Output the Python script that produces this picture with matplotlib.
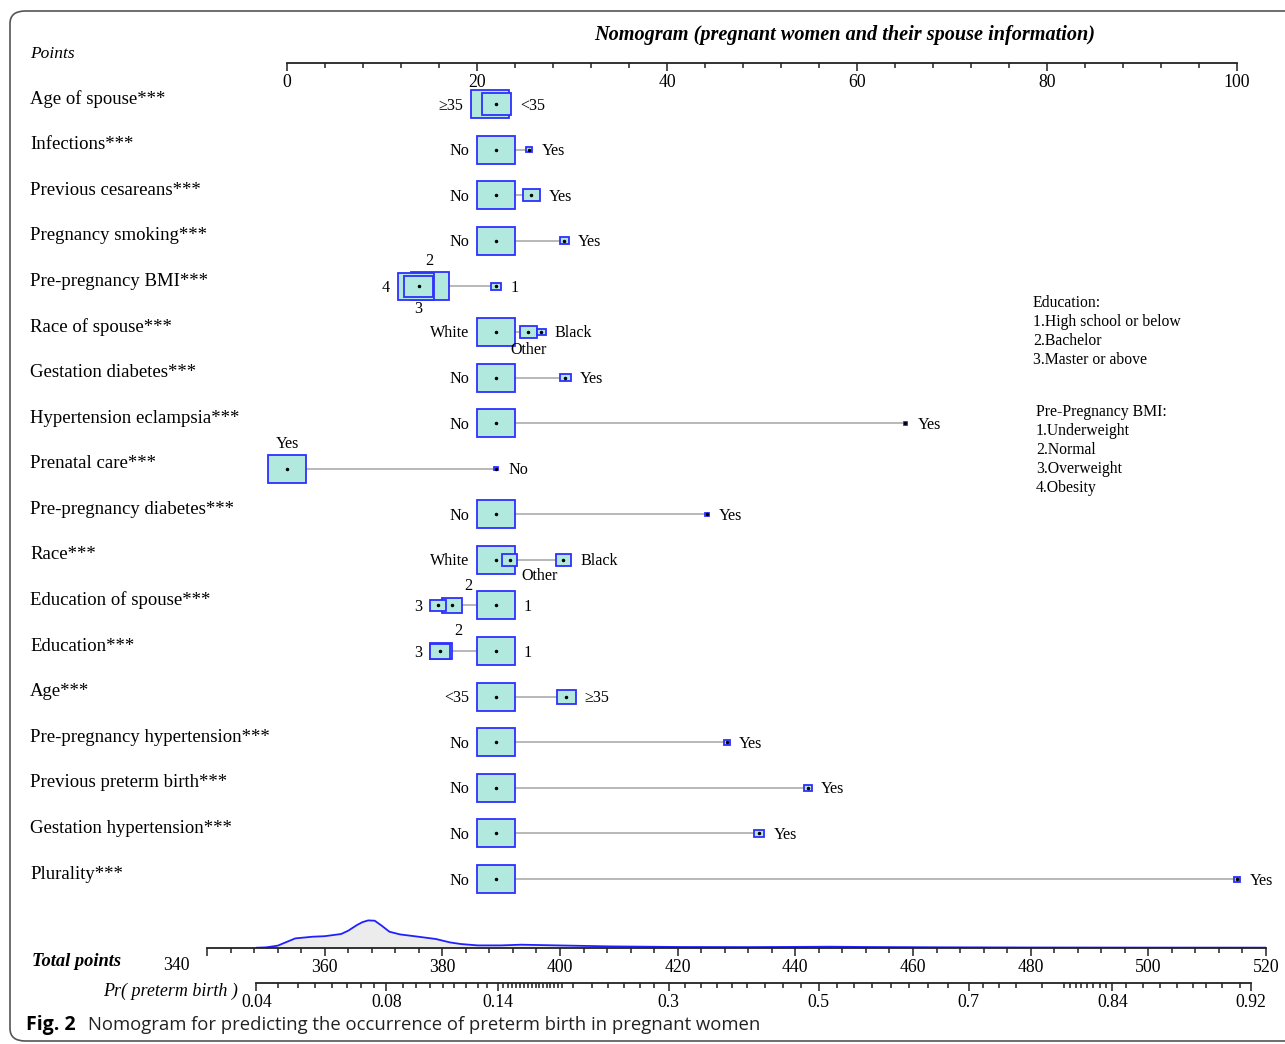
import numpy as np
import matplotlib.pyplot as plt
from matplotlib.patches import Rectangle, FancyBboxPatch

W, H = 1285, 1044
plt.rcParams['font.family'] = ['Liberation Serif', 'DejaVu Serif']

# ---- values ----
variables = ["Age of spouse***", "Infections***", "Previous cesareans***",
             "Pregnancy smoking***", "Pre-pregnancy BMI***", "Race of spouse***",
             "Gestation diabetes***", "Hypertension eclampsia***", "Prenatal care***",
             "Pre-pregnancy diabetes***", "Race***", "Education of spouse***",
             "Education***", "Age***", "Pre-pregnancy hypertension***",
             "Previous preterm birth***", "Gestation hypertension***", "Plurality***"]

level_names = [["≥35", "<35"], ["No", "Yes"], ["No", "Yes"], ["No", "Yes"],
               ["1", "2", "3", "4"], ["White", "Other", "Black"], ["No", "Yes"],
               ["No", "Yes"], ["Yes", "No"], ["No", "Yes"], ["White", "Other", "Black"],
               ["1", "2", "3"], ["1", "2", "3"], ["<35", "≥35"], ["No", "Yes"],
               ["No", "Yes"], ["No", "Yes"], ["No", "Yes"]]

level_points = [[21.4, 22.05], [22.0, 25.5], [22.0, 25.7], [22.0, 29.2],
                [22.0, 15.0, 13.85, 13.55], [22.0, 25.4, 26.75], [22.0, 29.3],
                [22.0, 65.1], [0.0, 22.0], [22.0, 44.2], [22.0, 23.45, 29.1],
                [22.0, 17.4, 15.9], [22.0, 16.2, 16.15], [22.0, 29.4], [22.0, 46.3],
                [22.0, 54.85], [22.0, 49.7], [22.0, 100.0]]

# relative frequency of each level (drives the box size)
level_share = [[1.0, 0.76], [1.0, 0.17], [1.0, 0.44], [1.0, 0.24],
               [0.27, 1.0, 0.76, 0.95], [1.0, 0.44, 0.24], [1.0, 0.28],
               [1.0, 0.08], [1.0, 0.1], [1.0, 0.1], [1.0, 0.4, 0.4],
               [1.0, 0.53, 0.4], [1.0, 0.6, 0.53], [1.0, 0.5], [1.0, 0.16],
               [1.0, 0.21], [1.0, 0.27], [1.0, 0.18]]

points_ticks = np.arange(0, 101, 20)
total_ticks = np.arange(340, 521, 20)

prob_labels = [0.04, 0.08, 0.14, 0.3, 0.5, 0.7, 0.84, 0.92]
prob_minor = [0.045, 0.05, 0.055, 0.06, 0.065, 0.07, 0.075,
              0.087, 0.093, 0.1, 0.107, 0.113, 0.12, 0.127, 0.133,
              0.144, 0.147, 0.15, 0.153, 0.156, 0.159, 0.162, 0.165, 0.168,
              0.171, 0.174, 0.177, 0.18, 0.183, 0.186, 0.19,
              0.2, 0.217, 0.233, 0.25, 0.267, 0.283,
              0.32, 0.34, 0.36, 0.38, 0.4, 0.425, 0.45, 0.475,
              0.525, 0.55, 0.575, 0.6, 0.625, 0.65, 0.675,
              0.717, 0.735, 0.753, 0.779, 0.8, 0.805, 0.81, 0.815, 0.82,
              0.825, 0.83, 0.835, 0.85, 0.862, 0.873, 0.883, 0.892,
              0.899, 0.907, 0.915]

# density of total points in the sample
dens_total = [348.5, 350, 352, 355, 358, 360, 362.8, 364, 365.5, 366.4, 367.4,
              368.5, 369.7, 371, 372.8, 375.9, 378.9, 381.3, 383.1, 386, 390,
              393.4, 399.5, 408.6, 420.7, 432, 440, 446, 452, 465, 480, 500, 520]
dens_height = [0, 0.3, 2, 9.3, 11, 11.5, 13.7, 17, 22.7, 25.5, 27.3,
               27, 22, 16, 13.3, 11, 8.7, 5.3, 3.7, 2.3, 2.3,
               3, 2.3, 1.3, 0.7, 0.6, 0.8, 1.0, 0.7, 0.4, 0.2, 0.1, 0.05]

edu_legend = ["Education:", "1.High school or below", "2.Bachelor", "3.Master or above"]
bmi_legend = ["Pre-Pregnancy BMI:", "1.Underweight", "2.Normal", "3.Overweight", "4.Obesity"]

# logit link: total points -> probability
lp_center = 444.0
lp_scale = 30.09


def prob_to_total(p):
    p = np.asarray(p, float)
    return lp_center + lp_scale * np.log(p / (1 - p))


# label placement that differs from left/right default
placement = {(4, "2"): "t", (4, "3"): "b", (5, "Other"): "b", (8, "Yes"): "t",
             (10, "Other"): "br", (11, "2"): "tr", (12, "2"): "tr"}

# ---- layout (pixels) ----
X0, X1 = 287, 1237
ROW0, ROW_GAP = 104, 45.59
TOP, BOTTOM = 63, 905
PT = 0.72  # points per pixel at dpi 100


def fx(px):
    return px / W


def fy(py):
    return 1 - py / H


fig = plt.figure(figsize=(W / 100, H / 100), dpi=100)

ax = fig.add_axes([fx(X0), fy(BOTTOM), (X1 - X0) / W, (BOTTOM - TOP) / H])
ax.set_xlim(0, 100)
ax.set_ylim((BOTTOM - ROW0) / ROW_GAP, (TOP - ROW0) / ROW_GAP)
ax.axis('off')
px_per_pt = (X1 - X0) / 100.0

face = '#b2e9de'
edge = '#2f2fff'

for r, name in enumerate(variables):
    ax.annotate(name, xy=(fx(30), r), xycoords=('figure fraction', 'data'),
                xytext=(0, 5 * PT), textcoords='offset points',
                ha='left', va='center', fontsize=13.5)
    pts = level_points[r]
    ax.plot([min(pts), max(pts)], [r, r], color='#b8b8b8', lw=1.4, zorder=1)

    order = np.argsort(level_share[r])[::-1]
    imin, imax = int(np.argmin(pts)), int(np.argmax(pts))
    for z, i in enumerate(order):
        p = pts[i]
        s = level_share[r][i]
        w_px = max(38 * s, 3)
        h_px = max(28 * s, 3)
        w = w_px / px_per_pt
        h = h_px / ROW_GAP
        ax.add_patch(Rectangle((p - w / 2, r - h / 2), w, h, facecolor=face,
                               edgecolor=edge, lw=1.3, zorder=2 + z, clip_on=False))
        ax.plot(p, r, 'o', ms=1.5, color='black', zorder=2 + z, clip_on=False)

        lab = level_names[r][i]
        kind = placement.get((r, lab))
        if kind is None:
            kind = 'l' if i == imin else 'r'
        hw, hh = max(w_px / 2, 3), max(h_px / 2, 3)
        if kind == 'l':
            off, ha = (-(hw + 8), -1.5), 'right'
        elif kind == 'r':
            off, ha = (hw + 9, -1.5), 'left'
        elif kind == 't':
            off, ha = (0, hh + 11), 'center'
        elif kind == 'b':
            off, ha = (0, -(hh + 12)), 'center'
        elif kind == 'tr':
            off, ha = (hw + 2, hh + 12), 'left'
        else:
            off, ha = (hw + 4, -(hh + 11)), 'left'
        ax.annotate(lab, xy=(p, r), xytext=(off[0] * PT, off[1] * PT),
                    textcoords='offset points', ha=ha, va='center',
                    fontsize=11.6, zorder=20)


def strip_axis(a):
    for s in ['top', 'left', 'right']:
        a.spines[s].set_visible(False)
    a.spines['bottom'].set_linewidth(1.3)
    a.spines['bottom'].set_color('#222222')
    a.set_yticks([])
    a.patch.set_visible(False)
    a.tick_params(axis='x', which='major', length=6, width=1.1, labelsize=12.8,
                  pad=2, color='#222222')
    a.tick_params(axis='x', which='minor', length=3.5, width=1.1, color='#222222')


# points scale
axp = fig.add_axes([fx(X0), fy(TOP), (X1 - X0) / W, 1 / H])
axp.set_xlim(0, 100)
strip_axis(axp)
axp.set_xticks(points_ticks)
axp.set_xticks(np.arange(0, 101, 4), minor=True)

# total points scale with density
axt = fig.add_axes([fx(207), fy(947.7), 1059 / W, 40 / H])
axt.set_xlim(340, 520)
axt.set_ylim(0, 40)
strip_axis(axt)
axt.fill_between(dens_total, dens_height, color='#ececec', lw=0)
axt.plot(dens_total, dens_height, color='#2020ff', lw=1.3)
axt.set_xticks(total_ticks)
axt.set_xticklabels([''] + [str(t) for t in total_ticks[1:]])
axt.set_xticks(np.arange(340, 521, 4), minor=True)

# probability scale
axr = fig.add_axes([fx(207), fy(983), 1059 / W, 1 / H])
axr.set_xlim(340, 520)
strip_axis(axr)
axr.spines['bottom'].set_bounds(prob_to_total(0.04), prob_to_total(0.92))
axr.set_xticks(prob_to_total(prob_labels))
axr.set_xticklabels([str(p) for p in prob_labels])
axr.set_xticks(prob_to_total(prob_minor), minor=True)

# texts
fig.text(fx(845), fy(35), "Nomogram (pregnant women and their spouse information)",
         ha='center', va='center', fontsize=14.6, weight='bold', style='italic')
fig.text(fx(30), fy(54), "Points", ha='left', va='center', fontsize=12.5, style='italic')
fig.text(fx(32), fy(962), "Total points", ha='left', va='center', fontsize=13.3,
         weight='bold', style='italic')
fig.text(fx(176), fy(965), "340", ha='center', va='center', fontsize=12.8)
fig.text(fx(238), fy(991), "Pr( preterm birth )", ha='right', va='center',
         fontsize=13, style='italic')

for k, line in enumerate(edu_legend):
    fig.text(fx(1033), fy(303 + 19 * k), line, ha='left', va='center', fontsize=11.3)
for k, line in enumerate(bmi_legend):
    fig.text(fx(1036), fy(412 + 19 * k), line, ha='left', va='center', fontsize=11.3)

fig.text(fx(26), fy(1025), "Fig. 2", ha='left', va='center', fontsize=14,
         weight='bold', family='Open Sans')
fig.text(fx(88), fy(1025), "Nomogram for predicting the occurrence of preterm birth in pregnant women",
         ha='left', va='center', fontsize=13.3, family='Open Sans', color='#222222')

frame = FancyBboxPatch((fx(10), fy(1041)), (1310 - 10) / W, (1041 - 11) / H,
                       boxstyle="round,pad=0,rounding_size=0.012",
                       transform=fig.transFigure, fill=False, ec='#555555', lw=1.2)
fig.patches.append(frame)

fig.savefig('out.png', dpi=100)
